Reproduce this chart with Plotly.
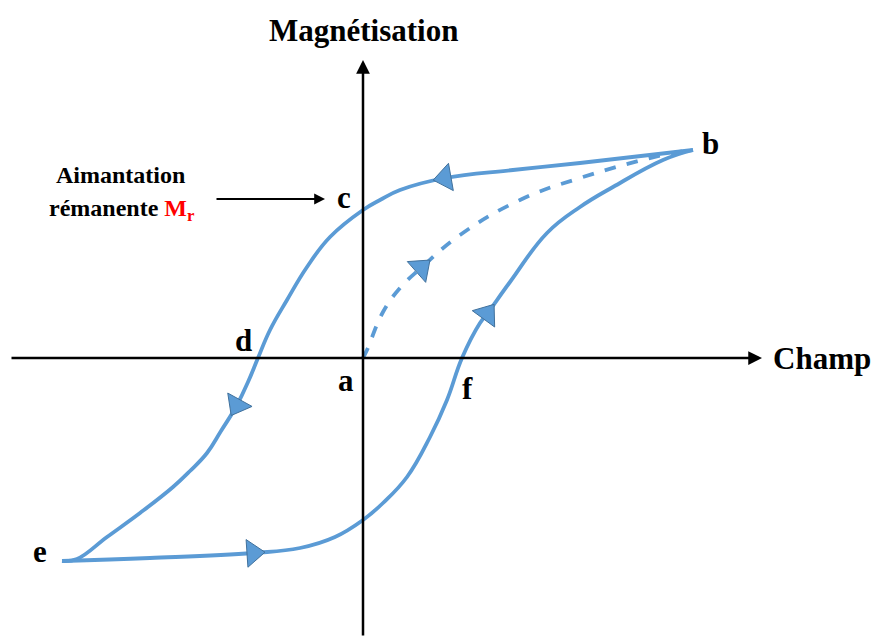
import math
import plotly.graph_objects as go

# hysteresis loop (arbitrary units: H = field, M = magnetisation)
descending_h = [3.30, 2.17, 1.50, 0.82, 0.37, 0.17, 0.00, -0.33, -0.56, -0.76, -0.93, -1.05,
                -1.15, -1.26, -1.42, -1.56, -1.73, -1.90, -2.23, -2.56, -2.86, -3.01]
descending_m = [2.08, 1.95, 1.88, 1.80, 1.68, 1.58, 1.48, 1.21, 0.91, 0.58, 0.28, 0.00,
                -0.24, -0.47, -0.73, -0.95, -1.13, -1.29, -1.55, -1.79, -2.01, -2.03]

ascending_h = [-3.01, -2.13, -1.10, -0.63, -0.28, 0.00, 0.20, 0.44, 0.67, 0.84, 0.99,
               1.17, 1.24, 1.47, 1.84, 2.17, 2.50, 3.00, 3.30]
ascending_m = [-2.03, -2.00, -1.95, -1.90, -1.79, -1.62, -1.45, -1.19, -0.79, -0.42, 0.00,
               0.35, 0.44, 0.76, 1.25, 1.51, 1.71, 1.98, 2.08]

initial_h = [0.00, 0.04, 0.20, 0.37, 0.58, 0.97, 1.57, 2.17, 3.00, 3.30]
initial_m = [0.00, 0.08, 0.46, 0.70, 0.90, 1.23, 1.58, 1.80, 2.03, 2.08]

# which points of each curve carry a direction arrow
descending_arrows = [3, 13]
ascending_arrows = [2, 12]
initial_arrows = [4]

point_labels = ['a', 'b', 'c', 'd', 'e', 'f']
label_h = [-0.17, 3.47, -0.19, -1.20, -3.23, 1.04]
label_m = [-0.22, 2.15, 1.61, 0.18, -1.93, -0.30]

BLUE = '#5b9bd5'
SERIF = 'Liberation Serif, Times New Roman, serif'


def curve(h, m, arrows, dash='solid'):
    n = len(h)
    opac = [1 if i in arrows else 0 for i in range(n)]
    # orient each arrow along the local tangent (x and y share the same px scale)
    angles = []
    for i in range(n):
        j0, j1 = max(i - 1, 0), min(i + 1, n - 1)
        angles.append(math.degrees(math.atan2(h[j1] - h[j0], m[j1] - m[j0])))
    return go.Scatter(
        x=h, y=m, mode='lines+markers', line_shape='spline',
        line=dict(color=BLUE, width=3.8, dash=dash, smoothing=1.2),
        marker=dict(symbol='triangle-up', size=24, color=BLUE,
                    opacity=opac, angle=angles,
                    line=dict(color='#41719c', width=1)),
        hoverinfo='skip', showlegend=False)


fig = go.Figure()
fig.add_trace(curve(descending_h, descending_m, descending_arrows))
fig.add_trace(curve(ascending_h, ascending_m, ascending_arrows))
fig.add_trace(curve(initial_h, initial_m, initial_arrows, dash='dash'))

# axes drawn as arrows
for tip, tail in [((3.99, 0), (-3.53, 0)), ((0, 2.98), (0, -2.79))]:
    fig.add_annotation(x=tip[0], y=tip[1], ax=tail[0], ay=tail[1],
                       xref='x', yref='y', axref='x', ayref='y', text='',
                       showarrow=True, arrowhead=2, arrowsize=1.1,
                       arrowwidth=2.5, arrowcolor='black')

# remanence pointer
fig.add_annotation(x=-0.38, y=1.59, ax=-1.48, ay=1.59,
                   xref='x', yref='y', axref='x', ayref='y', text='',
                   showarrow=True, arrowhead=2, arrowsize=1.2,
                   arrowwidth=1.8, arrowcolor='black')

for t, h, m in zip(point_labels, label_h, label_m):
    fig.add_annotation(x=h, y=m, text='<b>' + t + '</b>', showarrow=False,
                       font=dict(family=SERIF, size=31, color='black'))

fig.add_annotation(x=0, y=3.28, text='<b>Magnétisation</b>', showarrow=False,
                   font=dict(family=SERIF, size=31, color='black'))
fig.add_annotation(x=4.59, y=0.0, text='<b>Champ</b>', showarrow=False,
                   font=dict(family=SERIF, size=31, color='black'))
fig.add_annotation(x=-2.43, y=1.83, text='<b>Aimantation</b>', showarrow=False,
                   font=dict(family=SERIF, size=24, color='black'))
fig.add_annotation(x=-2.41, y=1.48,
                   text="<b>rémanente <span style='color:red'>M<sub>r</sub></span></b>",
                   showarrow=False, font=dict(family=SERIF, size=24, color='black'))

fig.update_layout(
    width=873, height=637,
    margin=dict(l=0, r=0, t=0, b=0),
    plot_bgcolor='white', paper_bgcolor='white',
    xaxis=dict(range=[-3.63, 5.10], visible=False, fixedrange=True),
    yaxis=dict(range=[-2.79, 3.58], visible=False, fixedrange=True),
)

fig.write_html("out.html", config={'displayModeBar': False},
               post_script="document.body.style.margin='0px';")
